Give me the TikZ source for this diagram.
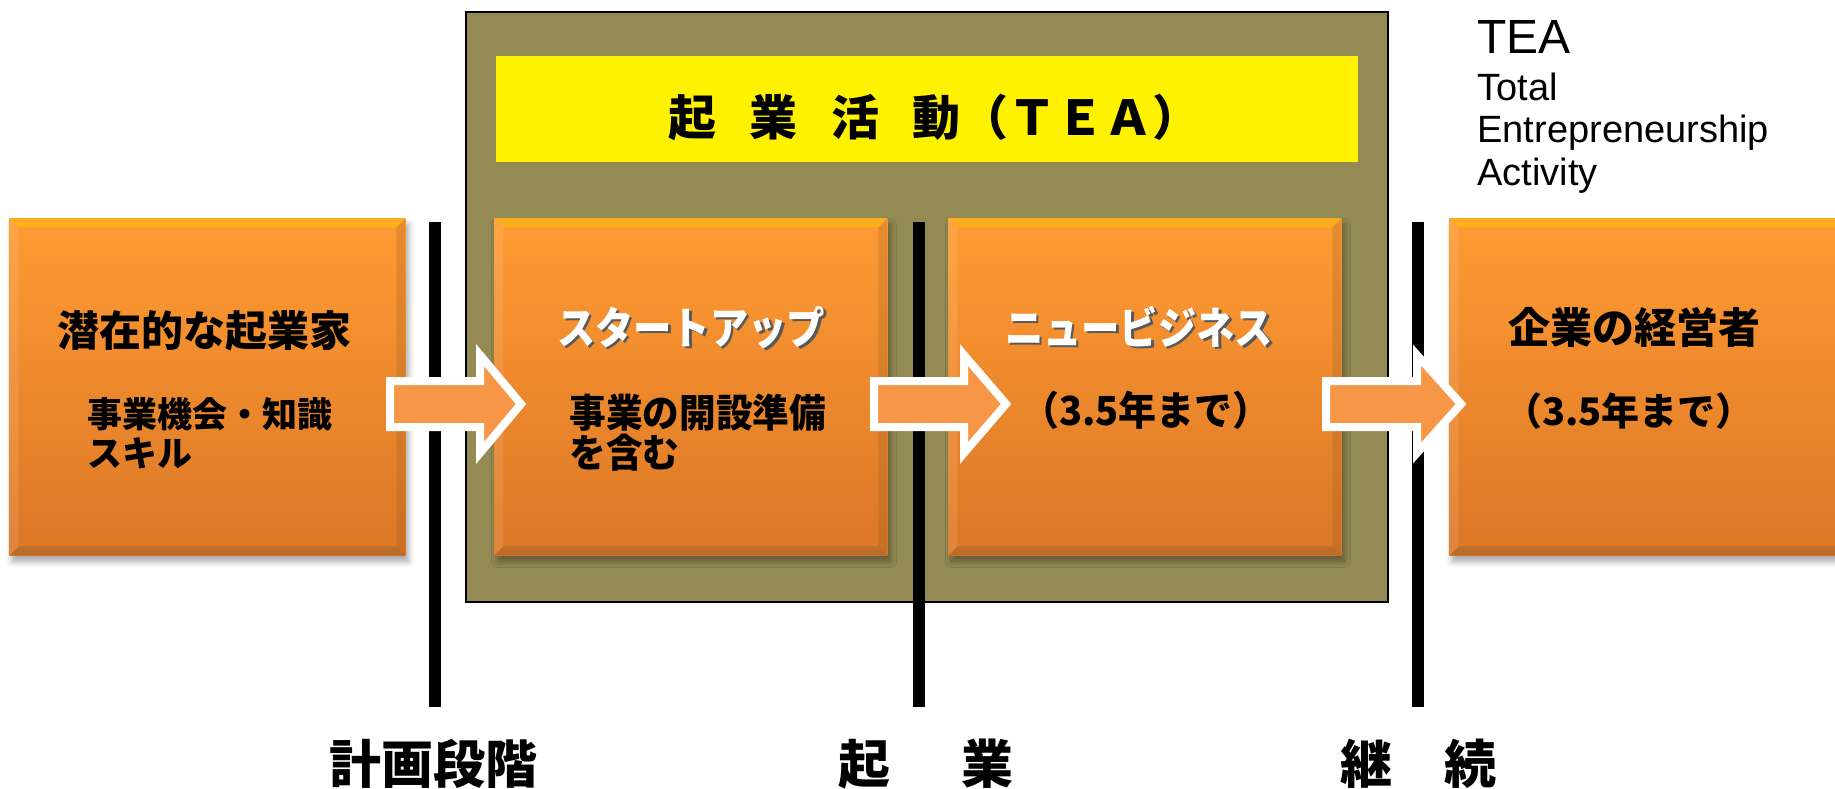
\documentclass[tikz,border=0pt]{standalone}
\usepackage{fontspec}
\setmainfont{Liberation Sans}
\newfontfamily\jp{Noto Sans CJK JP}
\usetikzlibrary{shadows.blur,calc}
\definecolor{olivebg}{HTML}{948A54}
\definecolor{orgtop}{HTML}{FF9B33}
\definecolor{orgbot}{HTML}{DB7726}
\definecolor{arrfill}{HTML}{F79646}
\newcommand{\shtext}[1]{\makebox[0pt][l]{\hspace{1.3pt}\raisebox{-1.3pt}{\color{black!65}#1}}\textcolor{white}{#1}}
\newcommand{\sqz}[2]{\scalebox{#1}[1]{#2}}
\tikzset{
  obox/.style={anchor=north west, inner sep=0pt, minimum height=168.5pt,
    top color=orgtop, bottom color=orgbot,
    blur shadow={shadow xshift=1.5pt, shadow yshift=-3pt, shadow blur radius=3pt, shadow opacity=35},
    path picture={
      \coordinate (pa) at (path picture bounding box.north west);
      \coordinate (pb) at (path picture bounding box.south east);
      \fill[yellow!60!orange, opacity=.45] (pa) -- (pa -| pb) -- ($(pa -| pb)+(-4.5pt,-4.5pt)$) -- ($(pa)+(4.5pt,-4.5pt)$) -- cycle;
      \fill[brown!70!black, opacity=.35] (pb) -- (pb -| pa) -- ($(pb -| pa)+(4.5pt,4.5pt)$) -- ($(pb)+(-4.5pt,4.5pt)$) -- cycle;
      \fill[white, opacity=.10] (pa) -- (pb -| pa) -- ($(pb -| pa)+(4.5pt,4.5pt)$) -- ($(pa)+(4.5pt,-4.5pt)$) -- cycle;
      \fill[brown!60!black, opacity=.18] (pb) -- (pa -| pb) -- ($(pa -| pb)+(-4.5pt,-4.5pt)$) -- ($(pb)+(-4.5pt,4.5pt)$) -- cycle;
    }},
  bar/.style={line width=6pt},
  blockarrow/.style={draw=white, line width=4pt, fill=arrfill, line join=miter},
  jtitle/.style={font=\jp\bfseries\fontsize{21}{21}\selectfont, inner sep=0pt, anchor=base},
  jwtitle/.style={font=\jp\bfseries\fontsize{22}{22}\selectfont, inner sep=0pt, anchor=base},
  jsub/.style={font=\jp\bfseries\fontsize{17.5}{19.5}\selectfont, inner sep=0pt, align=left, anchor=base west},
  jsubc/.style={font=\jp\bfseries\fontsize{19}{19}\selectfont, inner sep=0pt, anchor=base},
  jbottom/.style={font=\jp\bfseries\fontsize{26}{26}\selectfont, inner sep=0pt, anchor=base},
}
\begin{document}
\begin{tikzpicture}[x=0.5pt,y=-0.5pt]
\useasboundingbox (0,0) rectangle (1835,788);
% TEA frame
\draw[fill=olivebg, line width=1pt] (466,12) rectangle (1388,602);
\node[fill=yellow, anchor=north west, inner sep=0pt, minimum width=431pt, minimum height=53pt] (ybox) at (496,56) {};
\node[font=\jp\bfseries\fontsize{24}{24}\selectfont, inner sep=0pt, anchor=base west] (tea title) at (668,135)
  {起\hspace{16.75pt}業\hspace{16.75pt}活\hspace{16.75pt}動（ＴＥＡ）};
% boxes
\node[obox, minimum width=198pt] (b1) at (9,218) {};
\node[obox, minimum width=196.5pt] (b2) at (494,218) {};
\node[obox, minimum width=196.5pt] (b3) at (948,218) {};
\node[obox, minimum width=198pt] (b4) at (1449,218) {};
% bars
\coordinate (p1t) at (435,222); \coordinate (p1b) at (435,707);
\coordinate (p2t) at (919,222); \coordinate (p2b) at (919,707);
\coordinate (p3t) at (1418,222); \coordinate (p3b) at (1418,707);
\draw[bar] (p1t) -- (p1b);
\draw[bar] (p2t) -- (p2b);
\draw[bar] (p3t) -- (p3b);
% block arrows
\draw[blockarrow] (390,381) -- (480,381) -- (480,355) -- (521,404) -- (480,453) -- (480,427) -- (390,427) -- cycle;
\draw[blockarrow] (874,381) -- (964,381) -- (964,355) -- (1006,404) -- (964,453) -- (964,427) -- (874,427) -- cycle;
\draw[blockarrow] (1326,381) -- (1417,381) -- (1417,355) -- (1461,404) -- (1417,453) -- (1417,427) -- (1326,427) -- cycle;
% box texts
\node[jtitle] (t1) at (204,346) {潜在的な起業家};
\node[jsub] (s1) at (87,466) {事業機会・知識\\スキル};
\node[jwtitle] (t2) at (691,344) {\shtext{\sqz{.87}{スタートアップ}}};
\node[jsub, font=\jp\bfseries\fontsize{19.5}{20}\selectfont] (s2) at (569,467) {\sqz{.94}{事業の開設準備}\\\sqz{.94}{を含む}};
\node[jwtitle] (t3) at (1139,344) {\shtext{\sqz{.87}{ニュービジネス}}};
\node[jsubc, font=\jp\bfseries\fontsize{20}{20}\selectfont] (s3) at (1146,425) {\sqz{.95}{（3.5年まで）}};
\node[jtitle] (t4) at (1634,343) {企業の経営者};
\node[jsubc] (s4) at (1629,425) {（3.5年まで）};
% legend
\node[anchor=base west, inner sep=0pt, font=\fontsize{19}{21.25}\selectfont] (tea) at (1477,53)
  {\vtop{\hbox{\fontsize{24}{21.25}\selectfont TEA}\vskip2.25pt\hbox{Total}\hbox{Entrepreneurship}\hbox{Activity}}};
% phase labels
\node[jbottom] (l1) at (433,783) {計画段階};
\node[jbottom] (l2) at (926,783) {起\hspace{36pt}業};
\node[jbottom] (l3) at (1418,783) {継\hspace{26pt}続};
\end{tikzpicture}
\end{document}
